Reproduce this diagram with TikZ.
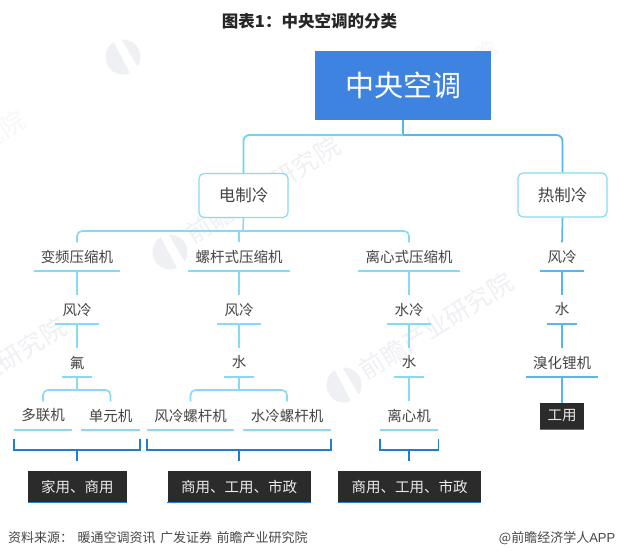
\documentclass[tikz,border=0pt]{standalone}
\usepackage{fontspec}
\setmainfont{Noto Sans CJK SC}
\newfontfamily\latinf{Liberation Sans}
\definecolor{txt}{HTML}{444444}
\definecolor{lineL}{HTML}{86DAF6}
\definecolor{lineT}{HTML}{6FD3F7}
\definecolor{lineR}{HTML}{55B7EC}
\definecolor{brk}{HTML}{1F7FC8}
\definecolor{rootc}{HTML}{3F83E0}
\definecolor{darkc}{HTML}{2B2B2B}
\definecolor{wm}{HTML}{EEF0F3}
\definecolor{wmb}{HTML}{F6F7F8}
\newcommand{\fs}[1]{\fontsize{#1}{#1}\selectfont}
\tikzset{
  titletext/.style={inner sep=0pt,font=\fs{16.5}\bfseries,text=black!85},
  rootbox/.style={fill=rootc,inner sep=0pt,minimum width=176pt,minimum height=69pt,font=\fs{29},text=white},
  catbox/.style={draw=lineL,line width=1.2pt,fill=white,rounded corners=5pt,inner sep=0pt,minimum width=89pt,minimum height=44pt,font=\fs{16.5},text=txt},
  lab/.style={inner sep=0pt,minimum width=#1,minimum height=28pt,font=\fs{14.5},text=txt},
  usebox/.style={fill=darkc,inner sep=0pt,minimum height=31pt,font=\fs{14.5},text=white!92!black},
  conn/.style={draw=lineL,line width=1.6pt},
  connT/.style={draw=lineT,line width=1.8pt,rounded corners=6pt},
  connR/.style={draw=lineR,line width=1.6pt},
  bracket/.style={draw=brk,line width=1.6pt},
  wmark/.style={inner sep=0pt,text=wm,font=\fs{25},rotate=32},
  foot/.style={inner sep=0pt,font=\fs{13},text=black!72},
}
\newcommand{\wmlogoat}[2]{%
  \begin{scope}[shift={(#1,#2)}]
    \clip (0,0) circle (17.5pt);
    \fill[wm] (-20,-24) -- (-11,-18) -- (9,20) -- (-20,20) -- cycle;
    \fill[wm] (-3,-20) -- (20,-20) -- (20,10) -- (15,10) -- cycle;
  \end{scope}}
\begin{document}
\begin{tikzpicture}[x=1pt,y=-1pt]
\useasboundingbox (0,0) rectangle (619,558);
\fill[white] (0,0) rectangle (619,558);
\begin{scope}
\clip (0,0) rectangle (619,558);
% watermarks
\wmlogoat{123}{57}
\wmlogoat{170}{252}
\wmlogoat{344}{385}
\node[wmark] (wm1) at (263,190) {前瞻产业研究院};
\node[wmark] (wm2) at (436,326) {前瞻产业研究院};
\node[wmark,text=wmb] (wm3) at (-52,164) {前瞻产业研究院};
\node[wmark] (wm4) at (-11,371) {前瞻产业研究院};
\node[wmark,text=wmb,font=\fs{20}] (wm5) at (478,56) {前瞻};
\end{scope}

\node[titletext] (title) at (309.5,21) {图表1：中央空调的分类};
\node[rootbox] (root) at (403,85.5) {中央空调};
\node[catbox] (dian) at (243.5,195.5) {电制冷};
\node[catbox] (re) at (562.5,195) {热制冷};

% bus coordinates
\coordinate (bustop) at (403,135);
\coordinate (busmid) at (243,231);
\coordinate (busA) at (77,390);
\coordinate (busB) at (239,390);

% labels
\node[lab=86pt] (b1) at (77,256.5) {变频压缩机};
\node[lab=102pt] (b2) at (239,256.5) {螺杆式压缩机};
\node[lab=101pt] (b3) at (409,256.5) {离心式压缩机};
\node[lab=44pt] (b4) at (562,256.5) {风冷};
\node[lab=44pt] (c1) at (77,309.5) {风冷};
\node[lab=44pt] (c2) at (239,309.5) {风冷};
\node[lab=44pt] (c3) at (409,309.5) {水冷};
\node[lab=29pt] (c4) at (562,309.5) {水};
\node[lab=29pt] (d1) at (77,362.5) {氟};
\node[lab=29pt] (d2) at (239,362.5) {水};
\node[lab=29pt] (d3) at (409,362.5) {水};
\node[lab=72pt] (d4) at (562,362.5) {溴化锂机};
\node[lab=58pt] (e1) at (43,415.5) {多联机};
\node[lab=58pt] (e2) at (110.5,415.5) {单元机};
\node[lab=87pt] (e3) at (190.5,415.5) {风冷螺杆机};
\node[lab=87pt] (e4) at (287,415.5) {水冷螺杆机};
\node[lab=58pt] (e5) at (409,415.5) {离心机};

% use boxes
\node[usebox,minimum width=99.5pt] (u1) at (77.5,486.5) {家用、商用};
\node[usebox,minimum width=143pt] (u2) at (239,486.5) {商用、工用、市政};
\node[usebox,minimum width=143pt] (u3) at (409.5,486.5) {商用、工用、市政};
\node[usebox,minimum width=44pt,minimum height=26pt] (u4) at (562,416) {工用};

% underlines
\foreach \n in {b1,b2,b3,c1,c2,c3,d1,d2,d3,e1,e2,e3,e4,e5}
  \draw[conn] (\n.south west) -- (\n.south east);
\foreach \n in {b4,c4,d4}
  \draw[connR] (\n.south west) -- (\n.south east);
\foreach \n in {u1,u2,u3,u4}
  \draw[draw=brk,line width=1pt] (\n.south west) -- (\n.south east);

% top connectors
\draw[draw=lineR,line width=2pt] (root.south) -- (bustop);
\draw[connT] (dian.north) |- (bustop);
\draw[connT,draw=lineR] (bustop) -| (re.north);

% second level
\draw[conn] (dian.south) -- (busmid);
\draw[conn,rounded corners=5pt] (b1.north) |- (busmid) -| (b3.north);
\draw[conn] (b2.north) -- (b2.north |- busmid);
\draw[connR] (re.south) -- (b4.north);

% chains
\foreach \p/\q in {b1/c1,b2/c2,b3/c3,c1/d1,c2/d2,c3/d3,d3/e5}
  \draw[conn] (\p.south) -- (\q.north);
\foreach \p/\q in {b4/c4,c4/d4,d4/u4}
  \draw[connR] (\p.south) -- (\q.north);

% branches
\draw[conn] (d1.south) -- (busA);
\draw[conn,rounded corners=5pt] (e1.north) |- (busA) -| (e2.north);
\draw[conn] (d2.south) -- (busB);
\draw[conn,rounded corners=5pt] (e3.north) |- (busB) -| (e4.north);

% brackets
\coordinate (k1l) at (14,439); \coordinate (k1r) at (140,439); \coordinate (k1m) at (77,450);
\coordinate (k2l) at (147,439); \coordinate (k2r) at (331,439); \coordinate (k2m) at (239,450);
\coordinate (k3l) at (380,439); \coordinate (k3r) at (438.5,439); \coordinate (k3m) at (409,450);
\draw[bracket] (k1l) |- (k1m) -| (k1r);
\draw[bracket] (k1m) -- (k1m |- 0,461);
\draw[bracket] (k2l) |- (k2m) -| (k2r);
\draw[bracket] (k2m) -- (k2m |- 0,461);
\draw[bracket] (k3l) |- (k3m) -| (k3r);
\draw[bracket] (k3m) -- (k3m |- 0,461);

% footer
\node[foot,anchor=west] (src) at (8,538) {资料来源：\hspace{4.5pt}暖通空调资讯\hspace{4.5pt}广发证券\hspace{4.5pt}前瞻产业研究院};
\node[foot,anchor=east] (app) at (615.5,538) {@前瞻经济学人{\latinf APP}};
\end{tikzpicture}
\end{document}
